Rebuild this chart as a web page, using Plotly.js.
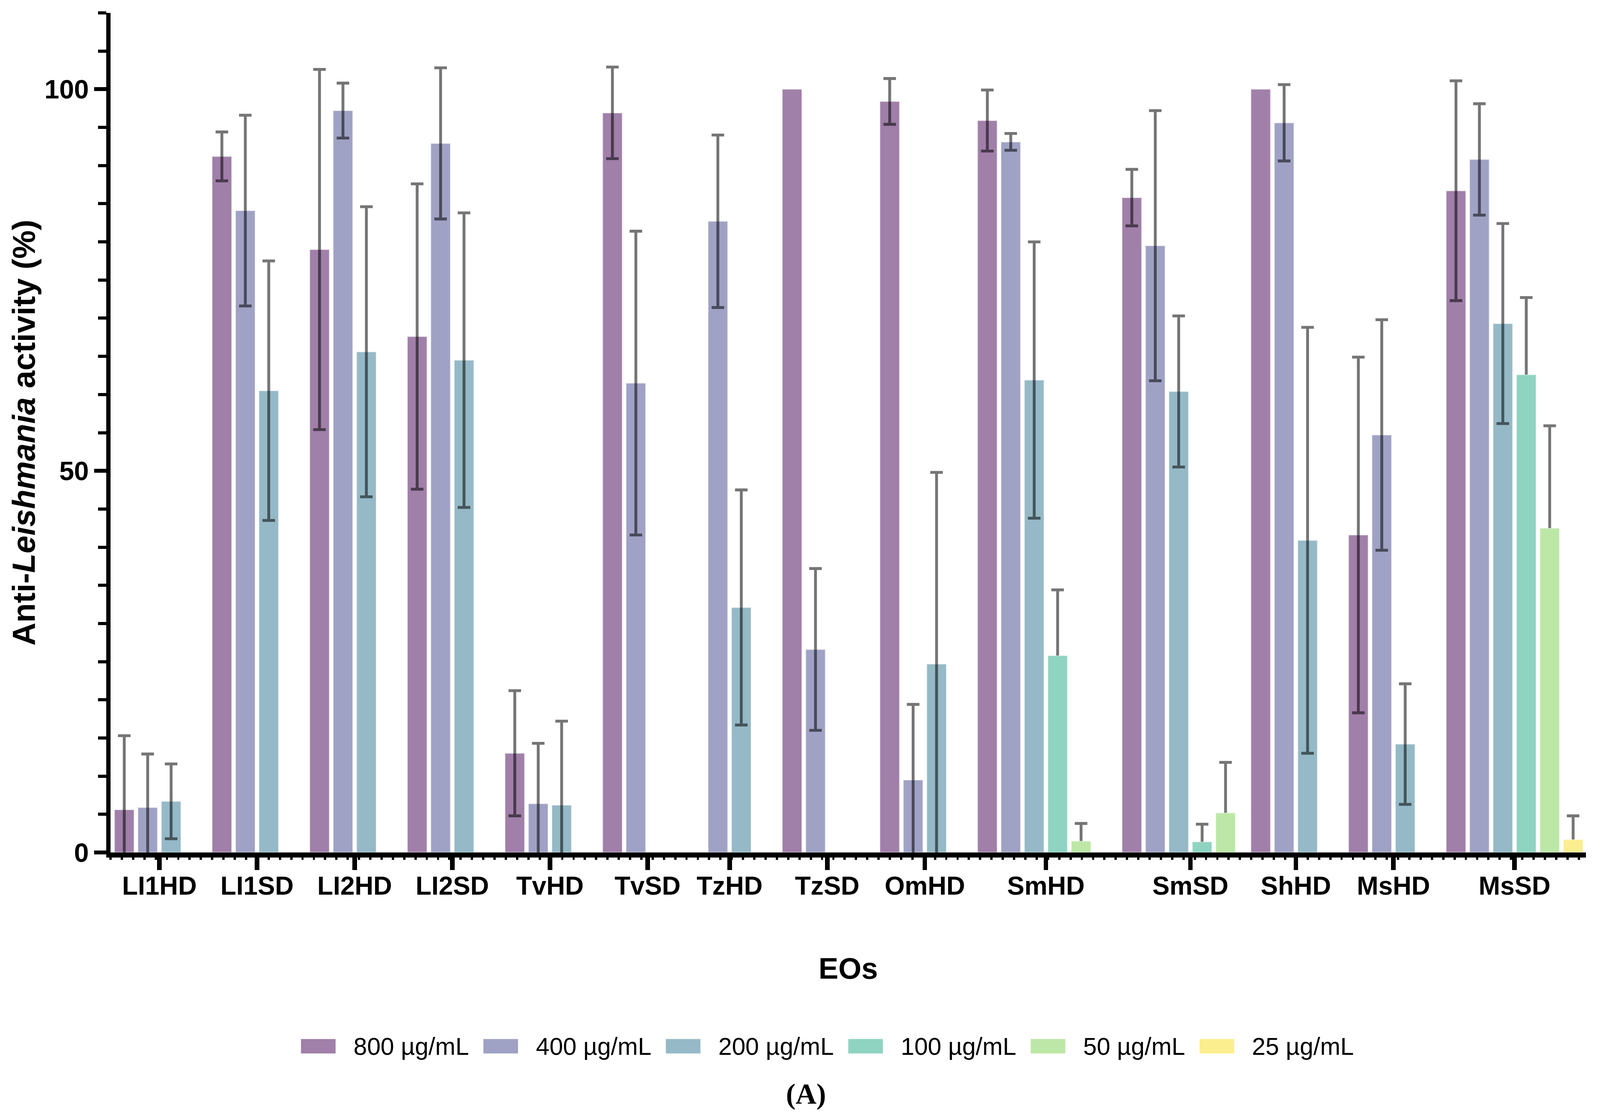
<!DOCTYPE html>
<html>
<head>
<meta charset="utf-8">
<script src="https://cdn.plot.ly/plotly-3.0.1.min.js"></script>
<style>
html,body{margin:0;padding:0;background:#ffffff;overflow:hidden;}
</style>
</head>
<body>
<div id="chart"></div>
<script>
// ---------------- DATA ----------------
const groups = ['LI1HD','LI1SD','LI2HD','LI2SD','TvHD','TvSD','TzHD','TzSD','OmHD','SmHD','SmSD','ShHD','MsHD','MsSD'];
const concentrations = ['800 µg/mL','400 µg/mL','200 µg/mL','100 µg/mL','50 µg/mL','25 µg/mL'];

const act800 = [5.6, 91.2, 79.0, 67.6, 13.0, 96.9, null, 100.0, 98.4, 95.9, 85.8, 100.0, 41.6, 86.7];
const sd800  = [9.7, 3.2, 23.6, 20.0, 8.2, 6.0, null, null, 3.0, 4.0, 3.7, null, 23.3, 14.4];

const act400 = [5.9, 84.1, 97.2, 92.9, 6.4, 61.5, 82.7, 26.6, 9.5, 93.1, 79.5, 95.6, 54.7, 90.8];
const sd400  = [7.0, 12.5, 3.6, 9.9, 7.9, 19.9, 11.3, 10.6, 9.9, 1.1, 17.7, 5.0, 15.1, 7.3];

const act200 = [6.7, 60.5, 65.6, 64.5, 6.2, null, 32.1, null, 24.7, 61.9, 60.4, 40.9, 14.2, 69.3];
const sd200  = [4.9, 17.0, 19.0, 19.3, 11.0, null, 15.4, null, 25.1, 18.1, 9.9, 27.9, 7.9, 13.1];

const act100 = [null, null, null, null, null, null, null, null, null, 25.8, 1.4, null, null, 62.6];
const sd100  = [null, null, null, null, null, null, null, null, null, 8.6, 2.3, null, null, 10.1];

const act50  = [null, null, null, null, null, null, null, null, null, 1.5, 5.2, null, null, 42.5];
const sd50   = [null, null, null, null, null, null, null, null, null, 2.3, 6.6, null, null, 13.4];

const act25  = [null, null, null, null, null, null, null, null, null, null, null, null, null, 1.7];
const sd25   = [null, null, null, null, null, null, null, null, null, null, null, null, null, 3.1];

const yTicks = [0, 50, 100];

// ---------------- STYLE / LAYOUT PARAMETERS ----------------
const colors = ['#a07fa9', '#9fa2c4', '#95b9c6', '#8fd3c1', '#bde7a7', '#fbee8e'];
const upperOnly = [false, false, false, true, true, true];   // error bars shown above the bar only
const series = [
  {y: act800, e: sd800}, {y: act400, e: sd400}, {y: act200, e: sd200},
  {y: act100, e: sd100}, {y: act50, e: sd50}, {y: act25, e: sd25}
];

// design is expressed in reference pixels (4207 x 2854) and scaled to the real viewport
const REF_W = 4207, REF_H = 2854;
const W = window.innerWidth || REF_W, H = window.innerHeight || REF_H;
const sx = W / REF_W, sy = H / REF_H, fs = Math.min(sx, sy);
document.getElementById('chart').style.width = W + 'px';
document.getElementById('chart').style.height = H + 'px';

const M = {l: 291 * sx, r: 37 * sx, t: 33 * sy, b: 672 * sy, pad: 0};
const plotW = W - M.l - M.r, plotH = H - M.t - M.b;
const xRange = [-0.085, 62.88];            // in bar-slot units
const yRange = [0, 110];
const slotPx = plotW / (xRange[1] - xRange[0]);
const barWidth = 0.84;                      // fraction of a slot
// space (in slots) left after each group's reserved slots
const trailingGap = [1/6, 1/6, 1/6, 1/6, 1/6, -0.5, 1/6, 1/6, 1/6, 1/6, -0.5, 1/6, 1/6, 1/6];

const FONT = '"Liberation Sans", Arial, Helvetica, sans-serif';
const errColor = 'rgba(0,0,0,0.54)';
const errThick = 7.5 * fs, errHalfCapPx = 16.5 * sx;

// ---------------- GROUP GEOMETRY (computed) ----------------
const nSlots = groups.map((g, gi) => series.some((s, k) => k >= 4 && s.y[gi] !== null) ? 6 : 4);
const groupStart = [];
{
  let pos = 0;
  groups.forEach((g, gi) => { groupStart.push(pos); pos += nSlots[gi] + trailingGap[gi]; });
}
const tickPos = groups.map((g, gi) => groupStart[gi] + nSlots[gi] / 2);

// ---------------- TRACES ----------------
const traces = [];
const capHalf = errHalfCapPx / slotPx;
const upperLines = [];
series.forEach((s, k) => {
  const xs = [], ys = [], es = [];
  groups.forEach((g, gi) => {
    if (s.y[gi] === null) return;
    xs.push(groupStart[gi] + k + 0.5);
    ys.push(s.y[gi]);
    es.push(s.e[gi] === null ? NaN : s.e[gi]);
  });
  const tr = {
    type: 'bar', name: concentrations[k], x: xs, y: ys, width: barWidth,
    marker: {color: colors[k], line: {color: 'rgba(255,255,255,0.55)', width: 2.5 * fs}},
    showlegend: false, hoverinfo: 'x+y'
  };
  if (!upperOnly[k]) {
    tr.error_y = {type: 'data', array: es, visible: true, color: errColor, thickness: errThick, width: errHalfCapPx};
  } else {
    const lx = [], ly = [];
    xs.forEach((x, i) => {
      if (isNaN(es[i])) return;
      const top = ys[i] + es[i];
      lx.push(x - capHalf, x + capHalf, x, x, null);
      ly.push(top, top, top, ys[i], null);
    });
    upperLines.push({
      type: 'scatter', mode: 'lines', x: lx, y: ly, connectgaps: false,
      line: {color: errColor, width: errThick}, hoverinfo: 'skip', showlegend: false,
      name: concentrations[k] + ' SD'
    });
  }
  traces.push(tr);
});
upperLines.forEach(t => traces.push(t));

// ---------------- CUSTOM LEGEND ----------------
const px2x = px => (px * sx - M.l) / plotW;          // reference px -> paper
const px2y = py => (H - M.b - py * sy) / plotH;
const ctx = document.createElement('canvas').getContext('2d');
const legFontSize = 64 * fs;
ctx.font = legFontSize + 'px "Liberation Sans"';
const tw = concentrations.map(t => ctx.measureText(t).width / sx);   // in reference px
const swW = 91, swH = 37, swTextGap = 45, itemGap = 40, legCenterX = 2175, legCenterY = 2678;
const totalW = tw.reduce((a, b) => a + b, 0) + concentrations.length * (swW + swTextGap) + (concentrations.length - 1) * itemGap;
const shapes = [], annotations = [];
{
  let cx = legCenterX - totalW / 2;
  concentrations.forEach((c, k) => {
    shapes.push({type: 'rect', xref: 'paper', yref: 'paper',
      x0: px2x(cx), x1: px2x(cx + swW), y0: px2y(legCenterY + swH / 2), y1: px2y(legCenterY - swH / 2),
      fillcolor: colors[k], line: {width: 0}, layer: 'above'});
    annotations.push({xref: 'paper', yref: 'paper', x: px2x(cx + swW + swTextGap), y: px2y(legCenterY),
      xanchor: 'left', yanchor: 'middle', showarrow: false, text: c,
      font: {family: FONT, size: legFontSize, color: '#000'}});
    cx += swW + swTextGap + tw[k] + itemGap;
  });
}
annotations.push({xref: 'paper', yref: 'paper', x: px2x(2120), y: px2y(2800), xanchor: 'center', yanchor: 'middle',
  showarrow: false, text: '<b>(A)</b>', font: {family: '"Liberation Serif", "Times New Roman", serif', size: 76 * fs, color: '#000'}});

// ---------------- LAYOUT ----------------
const layout = {
  width: W, height: H,
  margin: M,
  paper_bgcolor: '#ffffff', plot_bgcolor: '#ffffff',
  barmode: 'overlay',
  showlegend: false,
  font: {family: FONT, color: '#000'},
  xaxis: {
    range: xRange, autorange: false, fixedrange: true,
    tickmode: 'array', tickvals: tickPos, ticktext: groups,
    ticks: 'outside', ticklen: 32 * sy, tickwidth: 12 * sx, tickcolor: '#000',
    tickfont: {family: FONT, size: 68 * fs, color: '#000', weight: 'bold'},
    ticklabelstandoff: -16 * sy,
    showline: true, linewidth: 13 * sy, linecolor: '#000',
    showgrid: false, zeroline: false,
    minor: {tickmode: 'linear', tick0: xRange[0], dtick: 0.482, ticks: 'outside', ticklen: 6 * sy, tickwidth: 6 * sx, tickcolor: '#000', showgrid: false},
    title: {text: 'EOs', font: {family: FONT, size: 78 * fs, color: '#000', weight: 'bold'}, standoff: 154 * sy},
    automargin: false
  },
  yaxis: {
    range: yRange, autorange: false, fixedrange: true,
    tickmode: 'array', tickvals: yTicks, ticktext: yTicks.map(String),
    ticks: 'outside', ticklen: 32 * sx, tickwidth: 10 * sy, tickcolor: '#000',
    tickfont: {family: FONT, size: 70 * fs, color: '#000', weight: 'bold'},
    showline: true, linewidth: 11 * sx, linecolor: '#000',
    showgrid: false, zeroline: false,
    minor: {tickmode: 'linear', tick0: 0, dtick: 5, ticks: 'outside', ticklen: 22 * sx, tickwidth: 8 * sy, tickcolor: '#000', showgrid: false},
    title: {text: 'Anti-<i>Leishmania</i> activity (%)', font: {family: FONT, size: 84 * fs, color: '#000', weight: 'bold'}, standoff: 2 * sx},
    automargin: false
  },
  shapes: shapes,
  annotations: annotations
};

Plotly.newPlot('chart', traces, layout, {staticPlot: true, displayModeBar: false});
</script>
</body>
</html>
